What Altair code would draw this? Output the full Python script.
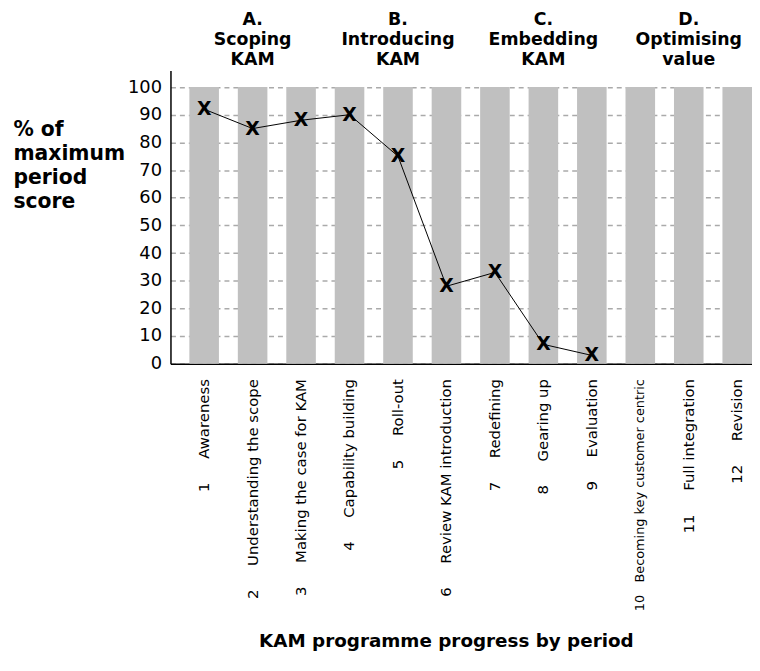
import altair as alt
import pandas as pd

periods = list(range(1, 13))
names = [
    "Awareness", "Understanding the scope", "Making the case for KAM",
    "Capability building", "Roll-out", "Review KAM introduction",
    "Redefining", "Gearing up", "Evaluation",
    "Becoming key customer centric", "Full integration", "Revision",
]
max_score = [100] * 12
scores = [92, 85, 88, 90, 75, 28, 33, 7, 3, None, None, None]

group_lines = [
    ["A.", "Scoping", "KAM"],
    ["B.", "Introducing", "KAM"],
    ["C.", "Embedding", "KAM"],
    ["D.", "Optimising", "value"],
]
group_mid_period = [2, 5, 8, 11]

NB = "\u00a0"
labels = [f"{p}{NB * (3 if p == 10 else 5)}{n}" for p, n in zip(periods, names)]

df = pd.DataFrame({"period": periods, "label": labels, "max": max_score, "score": scores})
hdf = pd.DataFrame({"label": [labels[p - 1] for p in group_mid_period], "lines": group_lines})

FONT = "DejaVu Sans"

x_enc = alt.X(
    "label:N",
    sort=labels,
    scale=alt.Scale(paddingInner=0.39, paddingOuter=0.195, align=1),
    axis=alt.Axis(
        title="KAM programme progress by period",
        titleFont=FONT, titleFontSize=18.5, titleFontWeight="bold", titleColor="black",
        titleX=278, titleY=279, titleAlign="center", titleBaseline="middle",
        labelAngle=270, labelFont=FONT, labelColor="black",
        labelFontSize={"condition": {"test": "indexof(datum.label, 'Becoming') >= 0", "value": 13}, "value": 15},
        labelLimit=400, labelPadding=15, ticks=False, tickSize=0, labelOverlap=False,
        domainColor="black", domainWidth=1.5, grid=False,
    ),
)

y_axis = alt.Axis(
    title=["% of", "maximum", "period", "score"],
    titleFont=FONT, titleFontSize=20.5, titleFontWeight="bold", titleColor="black",
    titleAngle=0, titleAlign="left", titleBaseline="top",
    titleX=-159, titleY=50, titleLineHeight=24,
    values=list(range(0, 101, 10)),
    labelFont=FONT, labelFontSize=18, labelColor="black", labelPadding=9,
    labelOverlap=False,
    ticks=False, tickSize=0,
    domainColor="black", domainWidth=1.5,
    grid=True, gridDash=[5, 4], gridColor="#aaaaaa", gridWidth=1.5,
)
y_scale = alt.Scale(domain=[0, 106], nice=False)

base = alt.Chart(df).encode(x=x_enc)

bars = base.mark_bar(color="#C0C0C0").encode(
    y=alt.Y("max:Q", scale=y_scale, axis=y_axis)
)
valid = base.transform_filter("isValid(datum.score)")
line = valid.mark_line(color="black", strokeWidth=1).encode(
    y=alt.Y("score:Q", scale=y_scale, axis=y_axis)
)
xs = valid.mark_text(text="X", font=FONT, fontWeight="bold", fontSize=19,
                     color="black", baseline="middle", align="center").encode(
    y=alt.Y("score:Q", scale=y_scale, axis=y_axis)
)

headers = alt.Chart(hdf).mark_text(
    font=FONT, fontWeight="bold", fontSize=17.5, lineHeight=20,
    baseline="top", align="center", color="black",
).encode(
    x=alt.X("label:N", sort=labels),
    y=alt.value(-60),
    text="lines",
)

chart = alt.layer(bars, line, xs, headers).properties(
    width=587, height=296,
    padding={"left": 5, "top": 0, "right": 0, "bottom": 5},
).configure_view(stroke=None)

chart.save("out.html", embed_options={"renderer": "svg", "actions": False})
